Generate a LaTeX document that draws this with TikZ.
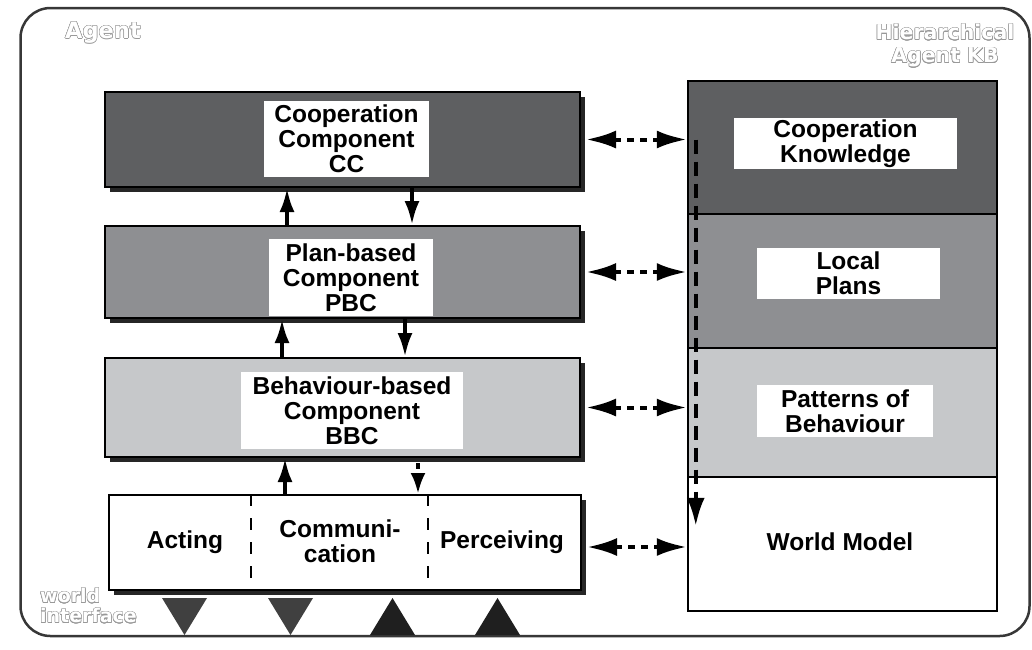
\documentclass[tikz,border=0pt]{standalone}
\usepackage{fontspec}
\setmainfont{Liberation Sans}
\newfontfamily\hollowfont{DejaVu Sans}[BoldFont={DejaVu Sans Bold}]
\usepackage{xcolor}
\usepackage{contour}
\usetikzlibrary{arrows.meta,shadows,calc}

\definecolor{ccgray}{RGB}{94,95,97}
\definecolor{pbcgray}{RGB}{142,143,146}
\definecolor{bbcgray}{RGB}{198,200,202}
\definecolor{framegray}{RGB}{55,55,55}
\contourlength{0.5pt}
\newcommand{\hollow}[1]{\contour{black!40}{\textcolor{white}{#1}}}

\begin{document}
\begin{tikzpicture}[x=1pt, y=-1pt, inner sep=0pt,
	compbox/.style={draw=black, line width=2pt, minimum width=475pt, drop shadow={shadow xshift=5pt, shadow yshift=-5pt, fill=black!85, opacity=1}},
	namebox/.style={fill=white, align=center, font=\fontsize{24.5}{25}\selectfont\bfseries},
	kbpart/.style={draw=black, line width=2.5pt, minimum width=309pt},
	hollowtext/.style={font=\hollowfont\fontsize{20.5}{23}\selectfont\bfseries, align=center},
	flowarrow/.style={->, line width=4pt, >={Latex[length=24pt,width=15pt]}},
	dotarrow/.style={<->, line width=4pt, dash pattern=on 7pt off 6pt, >={Latex[length=30pt,width=18pt]}},
	kbarrow/.style={->, line width=3.5pt, dash pattern=on 14pt off 8pt, >={Latex[length=28pt,width=18pt]}},
	divider/.style={line width=1.5pt, dash pattern=on 12pt off 12pt}]
	\useasboundingbox (0,0) rectangle (1032,649);
	\node[draw=framegray, line width=2.5pt, rounded corners=30pt, minimum width=1009pt, minimum height=628pt] (agent) at (525,322) {};
	
	\node[hollowtext, anchor=west, font=\hollowfont\fontsize{22.5}{23}\selectfont\bfseries] (agentlbl) at (65,33) {\hollow{Agent}};
	\node[hollowtext] (kblbl) at (945,46) {\hollow{Hierarchical}\\\hollow{Agent KB}};
	\node[hollowtext, anchor=west, align=left, font=\hollowfont\fontsize{19}{20}\selectfont\bfseries] (wilbl) at (40,606) {\hollow{world}\\\hollow{interface}};
	
	\node[compbox, fill=ccgray, minimum height=95pt] (cc) at (342.5,139.5) {};
	\node[namebox, minimum width=165pt, minimum height=76pt] (ccname) at (346.5,139) {Cooperation\\Component\\CC};
	\node[compbox, fill=pbcgray, minimum height=92pt] (pbc) at (342.5,272) {};
	\node[namebox, minimum width=164pt, minimum height=77pt] (pbcname) at (351,277.5) {Plan-based\\Component\\PBC};
	\node[compbox, fill=bbcgray, minimum height=99pt] (bbc) at (342.5,407.5) {};
	\node[namebox, minimum width=222pt, minimum height=77pt] (bbcname) at (352,410.5) {Behaviour-based\\Component\\BBC};
	\node[compbox, fill=white, minimum width=472pt, minimum height=95pt] (io) at (345,542.5) {};
	\node[namebox] (acting) at (185,542) {Acting};
	\node[namebox] (comm) at (340,541) {Communi-\\cation};
	\node[namebox] (perceiving) at (502,542) {Perceiving};
	
	\node[kbpart, fill=ccgray, minimum height=133pt] (coop) at (842.5,147.5) {};
	\node[kbpart, fill=pbcgray, minimum height=134pt] (plans) at (842.5,281) {};
	\node[kbpart, fill=bbcgray, minimum height=129pt] (patterns) at (842.5,412.5) {};
	\node[kbpart, fill=white, minimum height=134pt] (world) at (842.5,544) {};
	\node[namebox, minimum width=223pt, minimum height=51pt] (coopname) at (845.5,143.5) {Cooperation\\Knowledge};
	\node[namebox, minimum width=183pt, minimum height=51pt] (plansname) at (848.5,273.5) {Local\\Plans};
	\node[namebox, minimum width=176pt, minimum height=52pt] (patternsname) at (845,411) {Patterns of\\Behaviour};
	\node[namebox, fill=none] (worldname) at (840,542) {World Model};
	
	\draw[divider] ([xshift=-94pt]io.north) -- ([xshift=-94pt]io.south);
	\draw[divider] ([xshift=83pt]io.north) -- ([xshift=83pt]io.south);
	
	\draw[flowarrow] ([xshift=-55.5pt]pbc.north) -- ([xshift=-55.5pt]cc.south);
	\draw[flowarrow] ([xshift=69.5pt]cc.south) -- ([xshift=69.5pt]pbc.north);
	\draw[flowarrow] ([xshift=-60.5pt]bbc.north) -- ([xshift=-60.5pt]pbc.south);
	\draw[flowarrow] ([xshift=62.5pt]pbc.south) -- ([xshift=62.5pt]bbc.north);
	\draw[flowarrow] ([xshift=-60pt]io.north) -- ([xshift=-60pt]io.north |- bbc.south);
	\draw[flowarrow, dash pattern=on 6pt off 5pt, shorten <=5pt, >={Latex[length=21pt,width=15pt]}] ([xshift=75.5pt]bbc.south) -- ([xshift=75.5pt]bbc.south |- io.north);
	
	\draw[dotarrow, shorten <=5pt] (cc.east) -- (cc.east -| coop.west);
	\draw[dotarrow, shorten <=5pt] (pbc.east) -- (pbc.east -| plans.west);
	\draw[dotarrow, shorten <=5pt] (bbc.east) -- (bbc.east -| patterns.west);
	\draw[dotarrow, shorten <=5pt] ([yshift=-4.5pt]io.east) -- ([yshift=-4.5pt]io.east -| world.west);
	
	\draw[kbarrow] ([xshift=9pt]coop.west |- cc.east) -- ([xshift=9pt,yshift=-50pt]world.north west);
	
	\fill[black!75] (162,598) -- (207,598) -- (184.5,635) -- cycle;
	\fill[black!75] (268,598) -- (313,598) -- (290.5,635) -- cycle;
	\fill[black!88] (370,635) -- (415,635) -- (392.5,598) -- cycle;
	\fill[black!88] (475,635) -- (520,635) -- (497.5,598) -- cycle;
\end{tikzpicture}
\end{document}
